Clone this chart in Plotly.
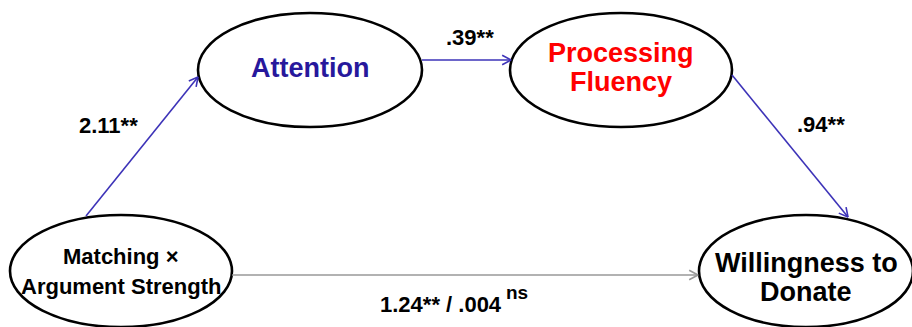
import numpy as np
import plotly.graph_objects as go

# Path model: node labels (one entry per text line) and path coefficients
node_names = ["predictor", "attention", "fluency", "outcome"]
node_lines = [
    ["Matching ×", "Argument Strength"],
    ["Attention"],
    ["Processing", "Fluency"],
    ["Willingness to", "Donate"],
]
path_from = ["predictor", "attention", "fluency", "predictor"]
path_to = ["attention", "fluency", "outcome", "outcome"]
path_labels = ["2.11**", ".39**", ".94**", "1.24** / .004"]
path_marks = ["", "", "", "ns"]  # raised significance note after a label

# Layout of the diagram (pixel coordinates, y grows downward)
W, H = 912, 327
node_geom = {
    "predictor": dict(cx=121, cy=271, rx=111, ry=56, size=22, color="#000000",
                      line_y=[256, 286]),
    "attention": dict(cx=310, cy=70, rx=112, ry=57, size=27, color="#27189c",
                      line_y=[68]),
    "fluency": dict(cx=621, cy=70, rx=111, ry=57, size=27, color="#ff0000",
                    line_y=[53, 82]),
    "outcome": dict(cx=806, cy=271, rx=107, ry=56, size=27, color="#000000",
                    line_y=[263, 292]),
}
path_geom = [
    dict(start=(86, 216), end=(198, 77), color="#3d33b8", label_xy=(108, 125)),
    dict(start=(422, 60), end=(511, 60), color="#3d33b8", label_xy=(470, 37)),
    dict(start=(732, 75), end=(848, 217), color="#3d33b8", label_xy=(821, 124)),
    dict(start=(232, 275), end=(698, 275), color="#999999", label_xy=(441, 304),
         mark_xy=(504, 292)),
]

FONT = "Liberation Sans, Arial, sans-serif"

fig = go.Figure()
shapes = []
annotations = []

# Ellipses and their labels
for name, lines in zip(node_names, node_lines):
    g = node_geom[name]
    shapes.append(dict(
        type="circle", xref="x", yref="y",
        x0=g["cx"] - g["rx"], x1=g["cx"] + g["rx"],
        y0=g["cy"] - g["ry"], y1=g["cy"] + g["ry"],
        line=dict(color="black", width=2.6), fillcolor="white", layer="below",
    ))
    for text, ty in zip(lines, g["line_y"]):
        annotations.append(dict(
            x=g["cx"], y=ty, xref="x", yref="y", text=f"<b>{text}</b>",
            showarrow=False, xanchor="center", yanchor="middle",
            font=dict(family=FONT, size=g["size"], color=g["color"]),
        ))

# Paths with open chevron heads, plus coefficient labels
head_len, head_ang = 10, np.deg2rad(28)
for src, dst, label, mark, g in zip(path_from, path_to, path_labels,
                                    path_marks, path_geom):
    (x0, y0), (x1, y1) = g["start"], g["end"]
    fig.add_trace(go.Scatter(
        x=[x0, x1], y=[y0, y1], mode="lines",
        line=dict(color=g["color"], width=1.6),
        hoverinfo="skip", showlegend=False, name=f"{src}→{dst}",
    ))
    ang = np.arctan2(y1 - y0, x1 - x0)
    hx = [x1 - head_len * np.cos(ang - head_ang), x1,
          x1 - head_len * np.cos(ang + head_ang)]
    hy = [y1 - head_len * np.sin(ang - head_ang), y1,
          y1 - head_len * np.sin(ang + head_ang)]
    fig.add_trace(go.Scatter(
        x=hx, y=hy, mode="lines",
        line=dict(color=g["color"], width=1.6),
        hoverinfo="skip", showlegend=False,
    ))
    lx, ly = g["label_xy"]
    annotations.append(dict(
        x=lx, y=ly, xref="x", yref="y", text=f"<b>{label}</b>",
        showarrow=False, xanchor="center", yanchor="middle",
        font=dict(family=FONT, size=22, color="black"),
    ))
    if mark:
        mx, my = g["mark_xy"]
        annotations.append(dict(
            x=mx, y=my, xref="x", yref="y", text=f"<b>{mark}</b>",
            showarrow=False, xanchor="left", yanchor="middle",
            font=dict(family=FONT, size=19, color="black"),
        ))

fig.update_layout(
    width=W, height=H,
    margin=dict(l=0, r=0, t=0, b=0),
    paper_bgcolor="white", plot_bgcolor="white",
    xaxis=dict(range=[0, W], visible=False, fixedrange=True),
    yaxis=dict(range=[H, 0], visible=False, fixedrange=True),
    shapes=shapes, annotations=annotations,
    showlegend=False,
)

fig.write_html("out.html")
